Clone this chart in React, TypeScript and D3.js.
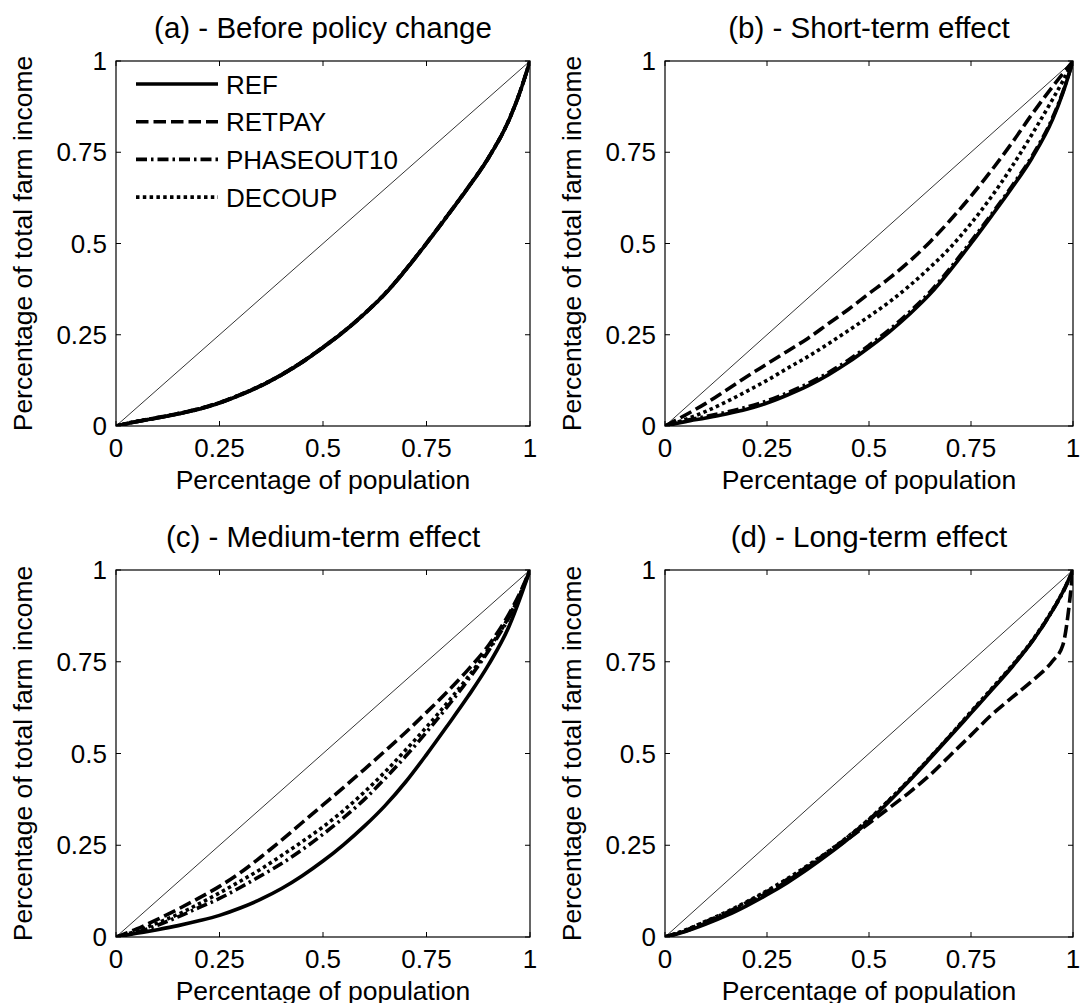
import React from 'react';
import * as d3 from 'd3';

// ---------- data ----------
const popShare = [0, 0.05, 0.1, 0.15, 0.2, 0.25, 0.3, 0.35, 0.4, 0.45, 0.5, 0.55, 0.6, 0.65, 0.7, 0.75, 0.8, 0.85, 0.9, 0.95, 0.975, 1];

const seriesNames = ['REF', 'RETPAY', 'PHASEOUT10', 'DECOUP'];
const panelTitles = ['(a) - Before policy change', '(b) - Short-term effect', '(c) - Medium-term effect', '(d) - Long-term effect'];
const tickValues = [0, 0.25, 0.5, 0.75, 1];
const tickLabels = ['0', '0.25', '0.5', '0.75', '1'];
const xAxisTitle = 'Percentage of population';
const yAxisTitle = 'Percentage of total farm income';

// (a) before policy change
const refBefore = [0, 0.012, 0.022, 0.033, 0.046, 0.063, 0.085, 0.11, 0.14, 0.175, 0.215, 0.258, 0.307, 0.362, 0.428, 0.5, 0.575, 0.652, 0.735, 0.84, 0.912, 1];
const retpayBefore = [0, 0.012, 0.023, 0.034, 0.047, 0.064, 0.086, 0.111, 0.141, 0.176, 0.216, 0.259, 0.308, 0.363, 0.429, 0.501, 0.576, 0.653, 0.736, 0.841, 0.913, 1];
const phaseoutBefore = [0, 0.012, 0.022, 0.033, 0.046, 0.063, 0.085, 0.11, 0.14, 0.175, 0.215, 0.258, 0.307, 0.362, 0.428, 0.5, 0.575, 0.652, 0.735, 0.84, 0.912, 1];
const decoupBefore = [0, 0.013, 0.023, 0.034, 0.047, 0.064, 0.086, 0.111, 0.141, 0.176, 0.216, 0.259, 0.308, 0.363, 0.429, 0.501, 0.576, 0.653, 0.736, 0.841, 0.913, 1];

// (b) short-term effect
const refShort = [0, 0.012, 0.022, 0.033, 0.046, 0.063, 0.085, 0.11, 0.14, 0.175, 0.215, 0.258, 0.307, 0.362, 0.428, 0.5, 0.575, 0.652, 0.735, 0.84, 0.912, 1];
const retpayShort = [0, 0.03, 0.062, 0.098, 0.135, 0.17, 0.205, 0.24, 0.28, 0.32, 0.363, 0.405, 0.452, 0.505, 0.565, 0.63, 0.7, 0.775, 0.855, 0.93, 0.965, 1];
const phaseoutShort = [0, 0.015, 0.026, 0.038, 0.052, 0.069, 0.091, 0.116, 0.146, 0.181, 0.221, 0.264, 0.313, 0.368, 0.434, 0.506, 0.58, 0.657, 0.74, 0.845, 0.915, 1];
const decoupShort = [0, 0.018, 0.04, 0.066, 0.095, 0.125, 0.158, 0.19, 0.225, 0.262, 0.3, 0.34, 0.385, 0.435, 0.49, 0.555, 0.628, 0.71, 0.8, 0.895, 0.945, 1];

// (c) medium-term effect
const refMedium = [0, 0.01, 0.02, 0.031, 0.044, 0.059, 0.079, 0.103, 0.132, 0.167, 0.207, 0.252, 0.302, 0.358, 0.423, 0.497, 0.575, 0.655, 0.742, 0.848, 0.92, 1];
const retpayMedium = [0, 0.022, 0.048, 0.076, 0.106, 0.138, 0.175, 0.218, 0.264, 0.312, 0.36, 0.408, 0.457, 0.507, 0.558, 0.612, 0.668, 0.728, 0.795, 0.882, 0.936, 1];
const phaseoutMedium = [0, 0.013, 0.032, 0.055, 0.08, 0.105, 0.135, 0.167, 0.2, 0.238, 0.28, 0.325, 0.375, 0.432, 0.493, 0.558, 0.627, 0.7, 0.78, 0.872, 0.93, 1];
const decoupMedium = [0, 0.016, 0.038, 0.062, 0.09, 0.12, 0.152, 0.185, 0.222, 0.26, 0.3, 0.345, 0.395, 0.45, 0.51, 0.572, 0.638, 0.708, 0.785, 0.875, 0.932, 1];

// (d) long-term effect
const refLong = [0, 0.015, 0.035, 0.058, 0.085, 0.115, 0.148, 0.185, 0.225, 0.268, 0.316, 0.37, 0.427, 0.487, 0.548, 0.61, 0.672, 0.735, 0.805, 0.89, 0.94, 1];
const retpayLong = [0, 0.016, 0.038, 0.062, 0.09, 0.12, 0.153, 0.19, 0.228, 0.268, 0.31, 0.352, 0.395, 0.442, 0.496, 0.55, 0.605, 0.652, 0.698, 0.752, 0.795, 1];
const phaseoutLong = [0, 0.018, 0.042, 0.066, 0.094, 0.124, 0.157, 0.193, 0.232, 0.274, 0.32, 0.373, 0.429, 0.489, 0.55, 0.612, 0.674, 0.737, 0.806, 0.89, 0.938, 1];
const decoupLong = [0, 0.019, 0.043, 0.068, 0.096, 0.126, 0.159, 0.195, 0.233, 0.275, 0.321, 0.374, 0.43, 0.49, 0.551, 0.614, 0.676, 0.739, 0.808, 0.892, 0.94, 1];

// ---------- styles ----------
const dashArrays = ['none', '12.5,5', '11,4,2.5,4', '3.5,3.3'];
const FONT = '"Liberation Sans", Arial, Helvetica, sans-serif';

interface PanelSpec {
  title: string;
  series: number[][];
  x0: number; x1: number; y0: number; y1: number;
  legend: boolean;
  id: string;
}

function Panel({ p }: { p: PanelSpec }) {
  const x = d3.scaleLinear().domain([0, 1]).range([p.x0, p.x1]);
  const y = d3.scaleLinear().domain([0, 1]).range([p.y1, p.y0]);
  const line = d3.line<number>()
    .x((_, i) => x(popShare[i]))
    .y((d) => y(d))
    .curve(d3.curveMonotoneX);
  const tickLen = 5;
  const cx = (p.x0 + p.x1) / 2;
  const cy = (p.y0 + p.y1) / 2;
  return (
    <g>
      <defs>
        <clipPath id={`clip-${p.id}`}>
          <rect x={p.x0} y={p.y0} width={p.x1 - p.x0} height={p.y1 - p.y0} />
        </clipPath>
      </defs>
      <rect x={p.x0} y={p.y0} width={p.x1 - p.x0} height={p.y1 - p.y0} fill="#fff" />
      <g clipPath={`url(#clip-${p.id})`}>
        <line x1={x(0)} y1={y(0)} x2={x(1)} y2={y(1)} stroke="#000" strokeWidth={0.8} />
        {p.series.map((s, k) => (
          <path key={k} d={line(s) || ''} fill="none" stroke="#000" strokeWidth={3.6}
            strokeDasharray={dashArrays[k]} strokeLinejoin="round" />
        ))}
      </g>
      <rect x={p.x0} y={p.y0} width={p.x1 - p.x0} height={p.y1 - p.y0} fill="none" stroke="#000" strokeWidth={1.2} />
      {tickValues.map((t, i) => (
        <g key={`t${i}`}>
          <line x1={x(t)} x2={x(t)} y1={p.y1} y2={p.y1 - tickLen} stroke="#000" strokeWidth={1} />
          <line x1={x(t)} x2={x(t)} y1={p.y0} y2={p.y0 + tickLen} stroke="#000" strokeWidth={1} />
          <line x1={p.x0} x2={p.x0 + tickLen} y1={y(t)} y2={y(t)} stroke="#000" strokeWidth={1} />
          <line x1={p.x1} x2={p.x1 - tickLen} y1={y(t)} y2={y(t)} stroke="#000" strokeWidth={1} />
          <text x={x(t)} y={p.y1 + 31} textAnchor="middle" fontSize={26} fontFamily={FONT}>{tickLabels[i]}</text>
          <text x={p.x0 - 9} y={y(t) + 9} textAnchor="end" fontSize={26} fontFamily={FONT}>{tickLabels[i]}</text>
        </g>
      ))}
      <text x={cx} y={p.y0 - 23} textAnchor="middle" fontSize={29.5} fontFamily={FONT}>{p.title}</text>
      <text x={cx} y={p.y1 + 63} textAnchor="middle" fontSize={26.5} fontFamily={FONT}>{xAxisTitle}</text>
      <text transform={`translate(${p.x0 - 84},${cy}) rotate(-90)`} textAnchor="middle" fontSize={26.5} fontFamily={FONT}>{yAxisTitle}</text>
      {p.legend && seriesNames.map((n, k) => {
        const ly = p.y0 + 23 + k * 37.7;
        return (
          <g key={`l${k}`}>
            <line x1={p.x0 + 20} x2={p.x0 + 102} y1={ly} y2={ly} stroke="#000" strokeWidth={3.6} strokeDasharray={dashArrays[k]} />
            <text x={p.x0 + 110} y={ly + 9.5} fontSize={26} fontFamily={FONT}>{n}</text>
          </g>
        );
      })}
    </g>
  );
}

export default function App() {
  const panels: PanelSpec[] = [
    { id: 'a', title: panelTitles[0], series: [refBefore, retpayBefore, phaseoutBefore, decoupBefore], x0: 116, x1: 530, y0: 61, y1: 426, legend: true },
    { id: 'b', title: panelTitles[1], series: [refShort, retpayShort, phaseoutShort, decoupShort], x0: 665, x1: 1073, y0: 61, y1: 426, legend: false },
    { id: 'c', title: panelTitles[2], series: [refMedium, retpayMedium, phaseoutMedium, decoupMedium], x0: 116, x1: 530, y0: 570, y1: 937, legend: false },
    { id: 'd', title: panelTitles[3], series: [refLong, retpayLong, phaseoutLong, decoupLong], x0: 665, x1: 1073, y0: 570, y1: 937, legend: false },
  ];
  return (
    <svg width={1080} height={1003} style={{ position: 'absolute', left: 0, top: 0, background: '#fff' }}>
      <rect x={0} y={0} width={1080} height={1003} fill="#fff" />
      {panels.map((p) => <Panel key={p.id} p={p} />)}
    </svg>
  );
}
